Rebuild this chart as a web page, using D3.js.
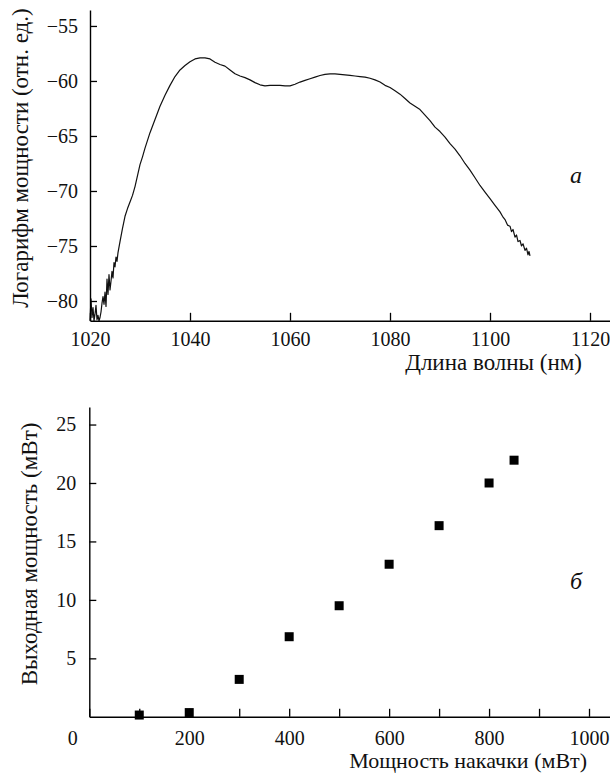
<!DOCTYPE html>
<html>
<head>
<meta charset="utf-8">
<script src="https://cdn.jsdelivr.net/npm/d3@7"></script>
<style>
  body { margin: 0; background: #fff; }
</style>
</head>
<body>
<script>
// spectrum (top panel) - wavelength in nm, log power in rel. units
const wavelength = [1020.0, 1020.2, 1020.4, 1020.6, 1020.8, 1021.0, 1021.2, 1021.4, 1021.6, 1021.8,
  1022.0, 1022.2, 1022.4, 1022.6, 1022.8, 1023.0, 1023.2, 1023.4, 1023.6, 1023.8,
  1024.0, 1024.2, 1024.4, 1024.6, 1024.8, 1025.0, 1025.2, 1025.4, 1025.6, 1026, 1026.5,
  1027, 1027.5, 1028, 1028.5, 1029, 1029.5, 1030, 1030.5, 1031, 1032, 1033, 1034, 1035,
  1036, 1037, 1038, 1039, 1040, 1041, 1042, 1043, 1044, 1045, 1046, 1047, 1048, 1049,
  1050, 1051, 1052, 1053, 1054, 1055, 1056, 1057, 1058, 1059, 1060, 1061, 1062, 1063,
  1064, 1065, 1066, 1067, 1068, 1069, 1070, 1071, 1072, 1073, 1074, 1075, 1076, 1077,
  1078, 1079, 1080, 1081, 1082, 1083, 1084, 1085, 1086, 1087, 1088, 1089, 1090, 1091,
  1092, 1093, 1094, 1095, 1096, 1097, 1098, 1099, 1100, 1101, 1102, 1102.5, 1103, 1103.5,
  1104, 1104.3, 1104.6, 1105, 1105.3, 1105.6, 1106, 1106.3, 1106.6, 1107, 1107.3, 1107.6,
  1107.8, 1108];
const logPower = [-81.8, -79.8, -81.5, -80.6, -81.8, -81.2, -80.4, -81.7, -81.3, -81.8,
  -81.5, -81.0, -80.2, -79.6, -80.3, -79.2, -80.5, -78.0, -79.4, -77.6,
  -79.0, -78.2, -77.3, -77.9, -76.5, -76.9, -76.0, -76.4, -75.6, -74.6, -73.4,
  -72.3, -71.6, -71.0, -70.4, -69.6, -68.6, -67.6, -66.9, -66.1, -64.7, -63.5, -62.3, -61.3,
  -60.4, -59.6, -59.0, -58.6, -58.25, -58.0, -57.9, -57.9, -58.0, -58.3, -58.5, -58.65, -59.0, -59.35,
  -59.55, -59.7, -59.9, -60.15, -60.35, -60.45, -60.4, -60.4, -60.4, -60.45, -60.45, -60.3, -60.1, -59.95,
  -59.8, -59.65, -59.5, -59.4, -59.35, -59.35, -59.4, -59.45, -59.5, -59.55, -59.6, -59.65, -59.75, -59.9,
  -60.1, -60.4, -60.6, -60.9, -61.2, -61.6, -62.0, -62.3, -62.6, -63.1, -63.6, -64.2, -64.6, -65.1,
  -65.7, -66.2, -66.8, -67.5, -68.1, -68.8, -69.5, -70.1, -70.7, -71.3, -71.9, -72.3, -72.6, -73.1,
  -73.2, -73.7, -73.5, -74.2, -74.0, -74.6, -74.5, -75.0, -74.8, -75.4, -75.2, -75.8,
  -75.5, -75.9];
const spectrumXTicks = [1020, 1040, 1060, 1080, 1100, 1120];
const spectrumYTicks = [-55, -60, -65, -70, -75, -80];

// output power vs pump power (bottom panel), mW
const pumpPower = [100, 200, 300, 400, 500, 600, 700, 800, 850];
const outputPower = [0.15, 0.36, 3.2, 6.85, 9.5, 13.05, 16.35, 20.0, 21.95];
const pumpTicks = [0, 100, 200, 300, 400, 500, 600, 700, 800, 900, 1000];
const outputTicks = [5, 10, 15, 20, 25];

const width = 610;
const height = 773;
const serif = 'Liberation Serif';
const tickSize = 20;
const titleSize = 23;
const fmt = d3.format('d');

const svg = d3.select('body')
  .append('svg')
  .attr('width', width)
  .attr('height', height);

// style an axis group like the print figure
function styleAxis(g) {
  g.attr('font-family', serif).style('font-family', serif).attr('font-size', tickSize);
  g.select('.domain').attr('stroke-width', 1.4);
  g.selectAll('.tick line').attr('stroke-width', 1.3);
  g.selectAll('.tick text').attr('fill', '#111').style('font-family', serif);
}

function label(x, y, txt, opts = {}) {
  const t = svg.append('text')
    .attr('transform', `translate(${x}, ${y})` + (opts.rotate ? ' rotate(-90)' : ''))
    .attr('text-anchor', opts.anchor || 'middle')
    .attr('font-size', opts.size || titleSize)
    .attr('fill', '#111')
    .style('font-family', serif)
    .text(txt);
  if (opts.italic) t.style('font-style', 'italic');
  return t;
}

// ---------- top panel (a) ----------
const xSpec = d3.scaleLinear()
  .domain([1020, 1124])
  .range([90, 610]);

const ySpec = d3.scaleLinear()
  .domain([-81.8, -53.55])
  .range([320.8, 10]);

const specLine = d3.line()
  .x((d, i) => xSpec(wavelength[i]))
  .y(d => ySpec(d));

svg.append('path')
  .datum(logPower)
  .attr('d', specLine)
  .attr('fill', 'none')
  .attr('stroke', '#111')
  .attr('stroke-width', 1.2)
  .attr('stroke-linejoin', 'round');

// x axis, ticks pointing inward
svg.append('g')
  .attr('transform', `translate(0, ${ySpec(-81.8)})`)
  .call(d3.axisBottom(xSpec).tickValues(spectrumXTicks).tickFormat(fmt)
    .tickSizeInner(-8).tickSizeOuter(0).tickPadding(11))
  .call(styleAxis);

// y axis
svg.append('g')
  .attr('transform', `translate(${xSpec(1020)}, 0)`)
  .call(d3.axisLeft(ySpec).tickValues(spectrumYTicks).tickFormat(fmt)
    .tickSizeInner(-7).tickSizeOuter(0).tickPadding(12))
  .call(styleAxis);

label(582, 370, 'Длина волны (нм)', { anchor: 'end' });
label(28, 158, 'Логарифм мощности (отн. ед.)', { rotate: true });
label(576, 183, 'а', { italic: true, size: 24 });

// ---------- bottom panel (б) ----------
const xPump = d3.scaleLinear()
  .domain([0, 1042])
  .range([89.3, 610]);

const yOut = d3.scaleLinear()
  .domain([0, 26.5])
  .range([716.8, 407]);

const pumpAxis = d3.axisBottom(xPump)
  .tickValues(pumpTicks)
  .tickFormat(d => d % 200 === 0 ? fmt(d) : '')
  .tickSizeInner(-8)
  .tickSizeOuter(0)
  .tickPadding(14);

svg.append('g')
  .attr('transform', `translate(0, ${yOut(0)})`)
  .call(pumpAxis)
  .call(styleAxis)
  .call(g => g.selectAll('.tick').filter(d => d === 0).select('text').attr('dx', -17));

svg.append('g')
  .attr('transform', `translate(${xPump(0)}, 0)`)
  .call(d3.axisLeft(yOut).tickValues(outputTicks).tickFormat(fmt)
    .tickSizeInner(-7).tickSizeOuter(0).tickPadding(13))
  .call(styleAxis);

// square markers
const side = 9;
svg.append('g')
  .selectAll('rect')
  .data(outputPower)
  .join('rect')
  .attr('x', (d, i) => xPump(pumpPower[i]) - side / 2)
  .attr('y', d => yOut(d) - side / 2)
  .attr('width', side)
  .attr('height', side)
  .attr('fill', '#000');

label(587, 768, 'Мощность накачки (мВт)', { anchor: 'end', size: 22 });
label(37, 554, 'Выходная мощность (мВт)', { rotate: true });
label(576, 589, 'б', { italic: true, size: 24 });
</script>
</body>
</html>
